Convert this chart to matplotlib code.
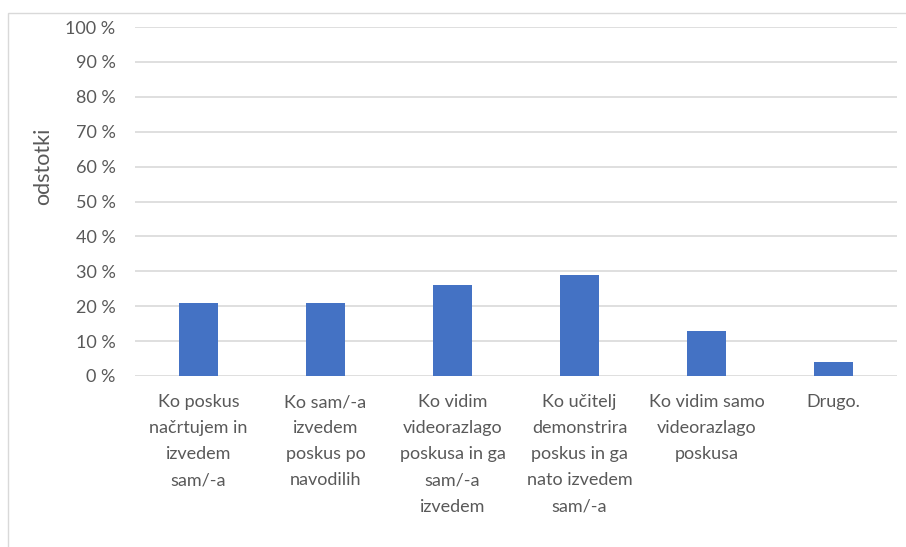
import numpy as np
import matplotlib.pyplot as plt
from matplotlib.patches import Rectangle

categories = [
    "Ko poskus\nnačrtujem in\nizvedem\nsam/-a",
    "Ko sam/-a\nizvedem\nposkus po\nnavodilih",
    "Ko vidim\nvideorazlago\nposkusa in ga\nsam/-a\nizvedem",
    "Ko učitelj\ndemonstrira\nposkus in ga\nnato izvedem\nsam/-a",
    "Ko vidim samo\nvideorazlago\nposkusa",
    "Drugo.",
]
values = [21, 21, 26, 29, 13, 4]
yticks = list(range(0, 101, 10))
ytick_labels = [f"{t} %" for t in yticks]

plt.rcParams['font.family'] = ['Lato', 'DejaVu Sans']
grey = '#595959'

fig = plt.figure(figsize=(9.06, 5.47), dpi=100)
fig.patches.append(Rectangle((8 / 906, -0.1), 1.1, 1 - 13 / 547 + 0.1, transform=fig.transFigure,
                             fill=False, edgecolor='#d9d9d9', linewidth=1))
ax = fig.add_axes([135 / 906, 1 - 376 / 547, (897 - 135) / 906, (376 - 27) / 547])

x = np.arange(len(categories))
ax.bar(x, values, width=0.31, color='#4472C4', zorder=3)
ax.set_xlim(-0.5, len(categories) - 0.5)
ax.set_ylim(0, 100)
ax.set_yticks(yticks)
ax.set_yticklabels(ytick_labels)
ax.set_xticks(x)
ax.set_xticklabels(categories, linespacing=1.78)
ax.tick_params(axis='both', length=0, labelsize=13, colors=grey)
ax.tick_params(axis='y', pad=14)
ax.tick_params(axis='x', pad=13)
ax.grid(axis='y', color='#d9d9d9', linewidth=1.2, zorder=0)
for s in ax.spines.values():
    s.set_visible(False)
ax.set_ylabel('odstotki', fontsize=15.5, color=grey)
ax.yaxis.set_label_coords(-82 / 762, 0.6)

fig.savefig('out.png', dpi=100)
